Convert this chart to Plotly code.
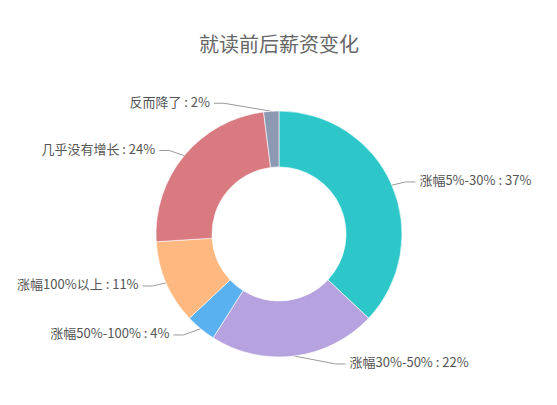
import numpy as np
import plotly.graph_objects as go

# 数据
labels = ["涨幅5%-30%", "涨幅30%-50%", "涨幅50%-100%", "涨幅100%以上", "几乎没有增长", "反而降了"]
values = [37, 22, 4, 11, 24, 2]
colors = ["#2ec7c9", "#b6a2de", "#5ab1ef", "#ffb980", "#d87a80", "#8d98b3"]
title_text = "就读前后薪资变化"

W, H = 557, 405
OFF = 8                        # default body margin of the html page
w, h = W - 2 * OFF, H - 2 * OFF
cx, cy, r = 279, 234, 123      # pie centre / outer radius in screen px
r1, R, len2 = 131, 146, 10     # label line geometry (echarts-like)


def px(x):
    return (x - OFF) / w


def py(y):
    return (H - OFF - y) / h


fig = go.Figure()

fig.add_trace(go.Pie(
    labels=labels, values=values, sort=False, direction="clockwise", rotation=0,
    hole=0.545, textinfo="none", hoverinfo="label+percent",
    marker=dict(colors=colors, line=dict(color="#ffffff", width=0.6)),
    domain=dict(x=[px(cx - r), px(cx + r)], y=[py(cy + r), py(cy - r)]),
    showlegend=False,
))

# 引导线和标签
total = sum(values)
cum = np.cumsum([0] + values[:-1])
line_x, line_y = [], []
for lab, v, c0 in zip(labels, values, cum):
    th = 2 * np.pi * (c0 + v / 2) / total
    sx, sy = np.sin(th), -np.cos(th)
    x0, y0 = cx + r * sx, cy + r * sy
    y1 = cy + r1 * sy
    side = 1 if sx >= 0 else -1
    dy = abs(y1 - cy)
    x2 = cx + side * np.sqrt(max(R ** 2 - dy ** 2, 0))
    x1 = x2 - side * len2
    line_x += [x0, x1, x2, None]
    line_y += [y0, y1, y1, None]
    fig.add_trace(go.Scatter(
        x=[x2 + side * 4], y=[y1], mode="text",
        text=[f"{lab} : {v}%"],
        textposition="middle right" if side > 0 else "middle left",
        textfont=dict(size=13, color="#555555", family="Noto Sans CJK SC"),
        hoverinfo="skip", showlegend=False,
    ))

fig.add_trace(go.Scatter(
    x=line_x, y=line_y, mode="lines",
    line=dict(color="#9a9a9a", width=1),
    hoverinfo="skip", showlegend=False,
))

fig.update_layout(
    width=w, height=h,
    margin=dict(l=0, r=0, t=0, b=0),
    paper_bgcolor="white", plot_bgcolor="rgba(0,0,0,0)",
    title=dict(text=title_text, x=px(279), xanchor="center", y=py(45), yanchor="middle",
               font=dict(size=20, color="#666666", family="Noto Sans CJK SC")),
    xaxis=dict(range=[OFF, W - OFF], visible=False, fixedrange=True),
    yaxis=dict(range=[H - OFF, OFF], visible=False, fixedrange=True),
)

fig.write_html("out.html")
